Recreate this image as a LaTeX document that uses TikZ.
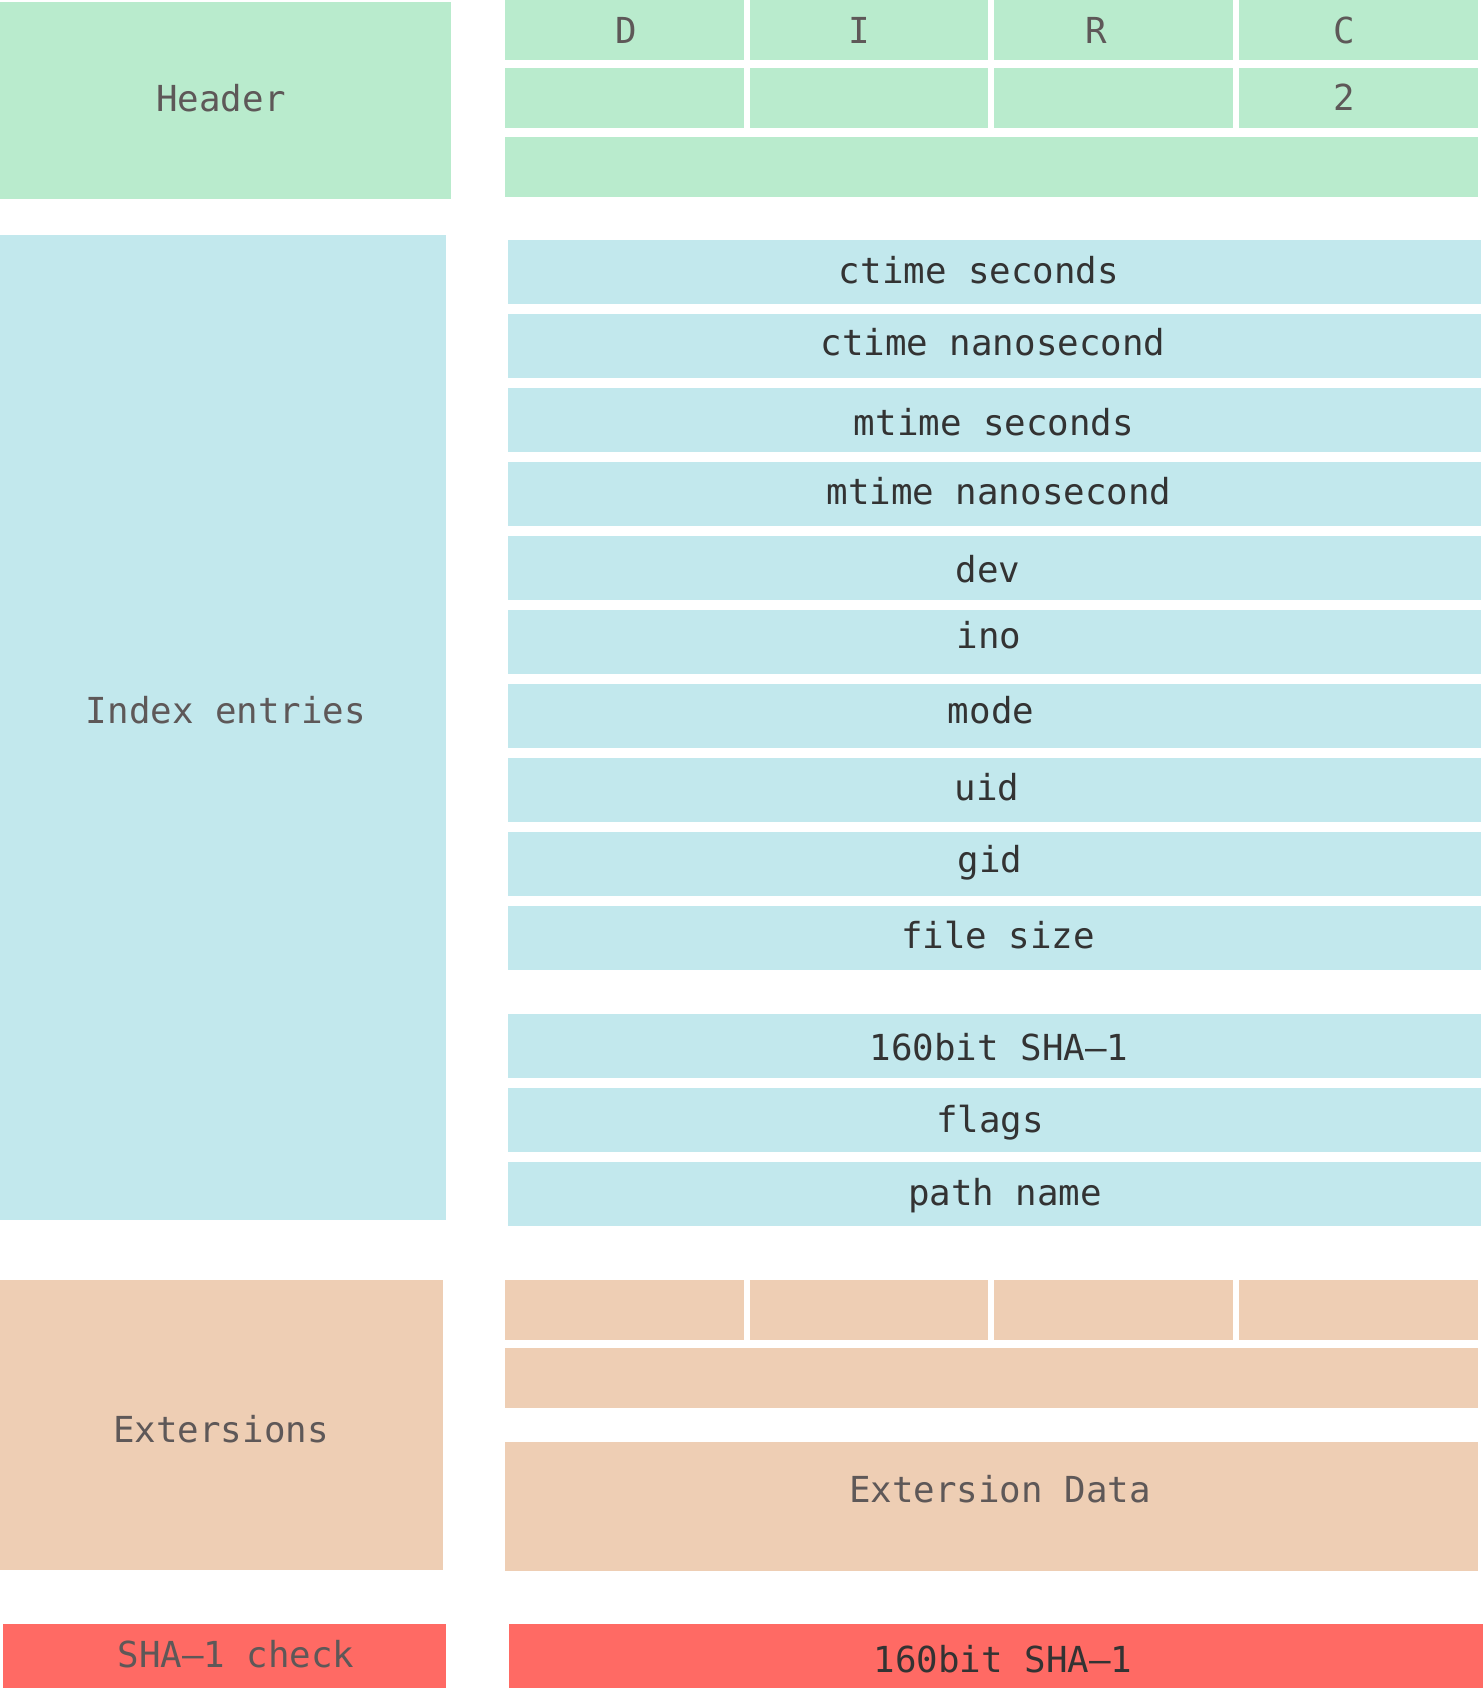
\documentclass[tikz,border=0pt]{standalone}
\usepackage{fontspec}
\newfontfamily\monofont{DejaVu Sans Mono}
\definecolor{hgreen}{HTML}{B9EBCD}
\definecolor{iblue}{HTML}{C2E8ED}
\definecolor{epeach}{HTML}{EECEB4}
\definecolor{sred}{HTML}{FF6A64}
\definecolor{graytxt}{HTML}{5E5858}
\definecolor{darktxt}{HTML}{333333}
\tikzset{
  lbl/.style={anchor=base, inner sep=0pt, font=\monofont\fontsize{17.9}{20}\selectfont},
  graylbl/.style={lbl, text=graytxt},
  darklbl/.style={lbl, text=darktxt},
}
\begin{document}
\begin{tikzpicture}[x=0.5pt,y=-0.5pt]
\path[use as bounding box, fill=white] (0,0) rectangle (1483,1688);
% ---------- Header (green)
\fill[hgreen] (0,2) rectangle (451,199);
\foreach \ya/\yb in {0/60,68/128}{
  \fill[hgreen] (505,\ya) rectangle (744,\yb);
  \fill[hgreen] (750,\ya) rectangle (988,\yb);
  \fill[hgreen] (994,\ya) rectangle (1233,\yb);
  \fill[hgreen] (1239,\ya) rectangle (1478,\yb);
}
\fill[hgreen] (505,137) rectangle (1478,197);
\node[graylbl] (hdr) at (221,111) {Header};
\node[graylbl] (hD) at (626,43) {D};
\node[graylbl] (hI) at (859,43) {I};
\node[graylbl] (hR) at (1096,43) {R};
\node[graylbl] (hC) at (1344,43) {C};
\node[graylbl] (h2) at (1344,110) {2};
% ---------- Index entries (blue)
\fill[iblue] (0,235) rectangle (446,1220);
\foreach \t in {240,314,388,462,536,610,684,758,832,906,1014,1088,1162}{
  \fill[iblue] (508,\t) rectangle (1481,\t+64);
}
\node[graylbl] (idx) at (226,723) {Index entries};
\node[darklbl] (e1) at (979,283) {ctime seconds};
\node[darklbl] (e2) at (993,355) {ctime nanosecond};
\node[darklbl] (e3) at (994,435) {mtime seconds};
\node[darklbl] (e4) at (999,504) {mtime nanosecond};
\node[darklbl] (e5) at (988,582) {dev};
\node[darklbl] (e6) at (989,648) {ino};
\node[darklbl] (e7) at (991,723) {mode};
\node[darklbl] (e8) at (987,800) {uid};
\node[darklbl] (e9) at (990,872) {gid};
\node[darklbl] (e10) at (998,948) {file size};
\node[darklbl] (e11) at (999,1060) {160bit SHA–1};
\node[darklbl] (e12) at (990,1132) {flags};
\node[darklbl] (e13) at (1005,1205) {path name};
% ---------- Extensions (peach)
\fill[epeach] (0,1280) rectangle (443,1570);
\fill[epeach] (505,1280) rectangle (744,1340);
\fill[epeach] (750,1280) rectangle (988,1340);
\fill[epeach] (994,1280) rectangle (1233,1340);
\fill[epeach] (1239,1280) rectangle (1478,1340);
\fill[epeach] (505,1348) rectangle (1478,1408);
\fill[epeach] (505,1442) rectangle (1478,1571);
\node[graylbl] (ext) at (221,1442) {Extersions};
\node[graylbl] (extd) at (1000,1502) {Extersion Data};
% ---------- SHA-1 check (red)
\fill[sred] (3,1624) rectangle (446,1688);
\fill[sred] (509,1624) rectangle (1483,1688);
\node[graylbl] (chk) at (236,1667) {SHA–1 check};
\node[darklbl] (sha) at (1003,1672) {160bit SHA–1};
\end{tikzpicture}
\end{document}
